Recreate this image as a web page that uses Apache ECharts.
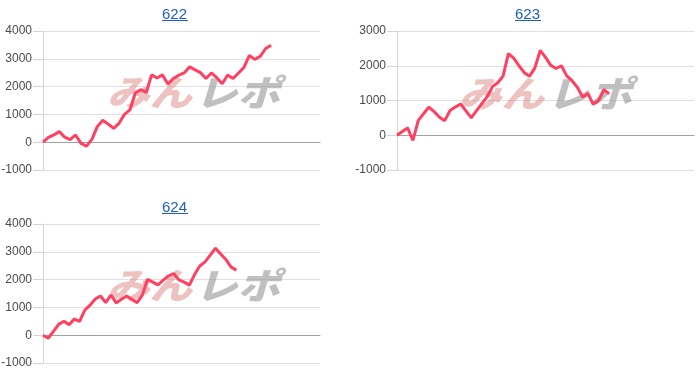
<!DOCTYPE html>
<html>
<head>
<meta charset="utf-8">
<script src="https://cdn.jsdelivr.net/npm/echarts@6/dist/echarts.min.js"></script>
<style>
html,body{margin:0;padding:0;background:#fff;}
#c{width:700px;height:386px;}
</style>
</head>
<body>
<div id="c"></div>
<script>
const titles = ['622', '623', '624'];
const data622 = [0,170,260,380,180,90,260,-40,-140,100,560,790,650,500,680,1000,1160,1770,1890,1790,2420,2310,2420,2090,2290,2410,2490,2710,2600,2500,2290,2490,2320,2100,2420,2290,2490,2690,3120,2980,3090,3370,3490];
const data623 = [0,110,210,-150,420,620,810,680,520,420,710,810,900,700,500,710,910,1110,1400,1510,1700,2350,2220,2000,1800,1700,1940,2440,2240,2010,1920,2000,1710,1570,1380,1100,1200,890,1000,1310,1190];
const data624 = [0,-110,140,390,500,380,580,500,900,1080,1300,1410,1170,1440,1160,1290,1410,1290,1170,1440,2010,1910,1810,1980,2130,2220,1990,1910,1800,2180,2490,2640,2880,3130,2920,2720,2450,2340];
const categoryCounts = [52, 57, 54];
const yMins = [-1000, -1000, -1000];
const yMaxs = [4000, 3000, 4000];
const yInterval = 1000;

const FONT = '"Liberation Sans", Arial, sans-serif';
const allData = [data622, data623, data624];
const grids = [
  {left: 43, top: 31, width: 277, height: 139, outerBoundsMode: 'none', containLabel: false},
  {left: 397, top: 31, width: 297, height: 139, outerBoundsMode: 'none', containLabel: false},
  {left: 43, top: 224, width: 277, height: 139, outerBoundsMode: 'none', containLabel: false}
];
const titlePos = [[175, 7], [528, 7], [175, 200]];
const wmPos = [[107, 92], [459, 93], [107, 285]];

const chart = echarts.init(document.getElementById('c'), null, {renderer: 'canvas'});

const xAxis = [], yAxis = [], series = [], graphic = [];
for (let i = 0; i < 3; i++) {
  const cats = Array.from({length: categoryCounts[i]}, (_, k) => String(k + 1));
  xAxis.push({
    type: 'category', gridIndex: i, data: cats, boundaryGap: false,
    axisLabel: {show: false}, axisTick: {show: false},
    axisLine: {show: true, onZero: true, lineStyle: {color: '#a0a0a0', width: 1}},
    splitLine: {show: false}
  });
  yAxis.push({
    type: 'value', gridIndex: i, min: yMins[i], max: yMaxs[i], interval: yInterval,
    axisLine: {show: true, onZero: false, lineStyle: {color: '#d4d4d4'}},
    axisTick: {show: true, inside: false, length: 10, lineStyle: {color: '#d4d4d4'}},
    axisLabel: {margin: 11, fontSize: 12, color: '#4a4a4a', fontFamily: FONT,
      formatter: v => String(v)},
    splitLine: {show: true, lineStyle: {color: '#e0e0e0', width: 1}}
  });
  series.push({
    type: 'line', xAxisIndex: i, yAxisIndex: i, data: allData[i],
    symbol: 'none', smooth: false, z: 5,
    lineStyle: {color: '#ff4060', width: 3}
  });
  graphic.push({
    type: 'text', left: titlePos[i][0] - 13, top: titlePos[i][1],
    style: {text: titles[i], fontSize: 15, fontFamily: FONT, fill: '#1c5dc9'}
  });
  graphic.push({
    type: 'rect', shape: {x: titlePos[i][0] - 13, y: titlePos[i][1] + 13, width: 26, height: 1},
    style: {fill: '#1c5dc9'}
  });
  graphic.push({
    type: 'text', x: wmPos[i][0], y: wmPos[i][1], z: 1, scaleX: 1.18,
    style: {text: 'みん', fontSize: 36, fontWeight: 900, fontStyle: 'italic',
      fontFamily: '"Noto Sans CJK JP", sans-serif', fill: 'rgba(220,120,120,0.45)',
      verticalAlign: 'middle', align: 'left'}
  });
  graphic.push({
    type: 'text', x: wmPos[i][0] + 88, y: wmPos[i][1], z: 1, scaleX: 1.18,
    style: {text: 'レポ', fontSize: 36, fontWeight: 900, fontStyle: 'italic',
      fontFamily: '"Noto Sans CJK JP", sans-serif', fill: 'rgba(150,150,150,0.6)',
      verticalAlign: 'middle', align: 'left'}
  });
}

chart.setOption({
  animation: false,
  backgroundColor: '#ffffff',
  grid: grids,
  xAxis: xAxis,
  yAxis: yAxis,
  series: series,
  graphic: graphic
});
</script>
</body>
</html>
